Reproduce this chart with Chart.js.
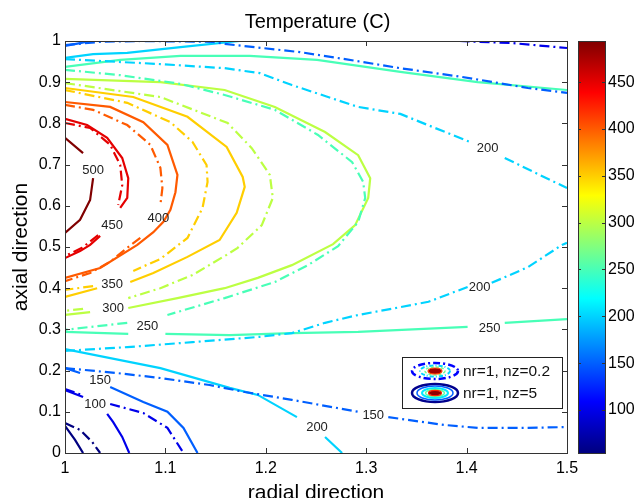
<!DOCTYPE html>
<html><head><meta charset="utf-8">
<script src="https://cdn.jsdelivr.net/npm/chart.js@4.4.1/dist/chart.umd.min.js"></script>
<style>
html,body{margin:0;padding:0;background:#fff;overflow:hidden;width:635px;height:498px}
#wrap{position:relative;width:635px;height:498px}
#main{position:absolute;left:0;top:0}
#cbar{position:absolute;left:570px;top:0}
</style></head><body>
<div id="wrap"><canvas id="main" width="635" height="498"></canvas><canvas id="cbar" width="65" height="498"></canvas></div>
<script>
// ---------- tick labels ----------
const xTicks = [1, 1.1, 1.2, 1.3, 1.4, 1.5];
const xTickLabels = ['1', '1.1', '1.2', '1.3', '1.4', '1.5'];
const yTicks = [0, 0.1, 0.2, 0.3, 0.4, 0.5, 0.6, 0.7, 0.8, 0.9, 1];
const yTickLabels = ['0', '0.1', '0.2', '0.3', '0.4', '0.5', '0.6', '0.7', '0.8', '0.9', '1'];
const cbTicks = [100, 150, 200, 250, 300, 350, 400, 450];
const cbTickLabels = ['100', '150', '200', '250', '300', '350', '400', '450'];
const cbMin = 54, cbMax = 494;

// ---------- contour lines, nr=1 nz=5 (solid) : [radial, axial], null = label gap ----------
const s500 = [[1.0,0.765],[1.018,0.728],null,[1.028,0.667],[1.025,0.614],[1.015,0.566],[1.0,0.534]];
const s450 = [[1.0,0.811],[1.022,0.796],[1.042,0.765],[1.057,0.716],[1.063,0.667],[1.062,0.619],[1.055,0.595],null,[1.035,0.527],[1.025,0.505],[1.015,0.49],[1.0,0.473]];
const s400 = [[1.0,0.852],[1.045,0.840],[1.078,0.803],[1.102,0.748],[1.112,0.675],[1.110,0.633],[1.105,0.590],[1.098,0.561],[1.088,0.536],[1.072,0.505],[1.035,0.449],[1.0,0.425]];
const s350 = [[1.0,0.886],[1.068,0.864],[1.122,0.816],[1.161,0.743],[1.177,0.670],[1.179,0.646],[1.171,0.583],[1.154,0.517],[1.122,0.476],[1.088,0.437],[1.065,0.415],null,[1.032,0.400],[1.0,0.379]];
const s300 = [[1.0,0.908],[1.095,0.900],[1.159,0.881],[1.209,0.840],[1.259,0.779],[1.292,0.723],[1.304,0.667],[1.302,0.619],[1.289,0.553],[1.267,0.507],[1.226,0.456],[1.192,0.425],[1.159,0.400],[1.112,0.376],[1.063,0.352],null,[1.025,0.342],[1.0,0.335]];
const s250a = [[1.0,0.937],[1.055,0.954],[1.115,0.964],[1.184,0.964],[1.251,0.954],[1.334,0.925],[1.411,0.900],[1.5,0.881]];
const s250b = [[1.0,0.294],[1.063,0.289],null,[1.1,0.289],[1.164,0.286],[1.226,0.291],[1.292,0.294],[1.401,0.306],null,[1.438,0.316],[1.5,0.325]];
const s200a = [[1.0,0.959],[1.028,0.968],[1.062,0.971],[1.115,0.985],[1.174,1.0]];
const s200b = [[1.0,0.252],[1.095,0.206],[1.164,0.158],[1.192,0.141],[1.231,0.087],null,[1.259,0.039],[1.276,0.0]];
const s150a = [[1.0,0.988],[1.015,0.995],[1.025,1.0]];
const s150b = [[1.0,0.206],[1.015,0.194],null,[1.045,0.160],[1.078,0.124],[1.102,0.100],[1.118,0.061],[1.132,0.0]];
const s100 = [[1.0,0.153],[1.018,0.136],null,[1.042,0.095],[1.048,0.075],[1.057,0.039],[1.064,0.0]];
const s50 = [[1.0,0.066],[1.010,0.032],[1.018,0.0]];

// ---------- contour lines, nr=1 nz=0.2 (dash-dot) ----------
const d450 = [[1.0,0.801],[1.025,0.789],[1.045,0.748],[1.055,0.699],[1.057,0.650],[1.053,0.602],null,[1.033,0.529],[1.017,0.498],[1.0,0.478]];
const d400 = [[1.0,0.845],[1.028,0.833],[1.062,0.796],[1.085,0.748],[1.095,0.692],[1.097,0.643],[1.095,0.602],null,[1.075,0.522],[1.062,0.498],[1.045,0.464],[1.025,0.437],[1.0,0.417]];
const d350 = [[1.0,0.881],[1.062,0.850],[1.105,0.803],[1.127,0.755],[1.141,0.699],[1.142,0.658],[1.137,0.595],[1.122,0.522],[1.095,0.471],[1.068,0.442],null,[1.028,0.405],[1.0,0.396]];
const d300 = [[1.0,0.898],[1.095,0.864],[1.162,0.801],[1.186,0.740],[1.204,0.675],[1.207,0.619],[1.196,0.553],[1.172,0.498],[1.161,0.481],[1.127,0.432],[1.095,0.400],[1.063,0.376],null,[1.018,0.350],[1.0,0.345]];
const d250 = [[1.0,0.930],[1.055,0.917],[1.115,0.896],[1.159,0.869],[1.209,0.833],[1.252,0.772],[1.286,0.706],[1.297,0.658],[1.299,0.619],[1.292,0.561],[1.272,0.502],[1.242,0.456],[1.209,0.415],[1.159,0.376],[1.102,0.335],null,[1.062,0.316],[1.0,0.299]];
const d200a = [[1.0,0.956],[1.095,0.944],[1.159,0.934],[1.194,0.922],[1.226,0.893],[1.292,0.840],[1.334,0.823],[1.403,0.755],null,[1.438,0.716],[1.5,0.643]];
const d200b = [[1.0,0.248],[1.062,0.257],[1.127,0.269],[1.194,0.282],[1.226,0.291],[1.259,0.316],[1.292,0.335],[1.334,0.354],[1.362,0.367],[1.401,0.403],null,[1.425,0.413],[1.461,0.451],[1.495,0.505],[1.5,0.510]];
const d150a = [[1.0,0.990],[1.035,0.998],[1.075,1.0],[1.147,0.998],[1.159,0.993],[1.234,0.973],[1.279,0.956],[1.334,0.934],[1.395,0.913],[1.461,0.886],[1.5,0.874]];
const d150b = [[1.0,0.206],[1.052,0.194],[1.095,0.182],[1.144,0.165],[1.179,0.148],[1.226,0.129],[1.292,0.100],null,[1.322,0.087],[1.378,0.068],[1.411,0.061],[1.461,0.061],[1.5,0.063]];
const d100a = [[1.393,1.0],[1.445,0.995],[1.5,0.983]];
const d100b = [[1.0,0.155],[1.018,0.140],null,[1.045,0.119],[1.078,0.097],[1.102,0.061],[1.118,0.0]];
const d50 = [[1.0,0.073],[1.015,0.056],[1.027,0.027],[1.035,0.0]];

const solidLines = [[500,s500],[450,s450],[400,s400],[350,s350],[300,s300],[250,s250a],[250,s250b],[200,s200a],[200,s200b],[150,s150a],[150,s150b],[100,s100],[50,s50]];
const dashLines = [[450,d450],[400,d400],[350,d350],[300,d300],[250,d250],[200,d200a],[200,d200b],[150,d150a],[150,d150b],[100,d100a],[100,d100b],[50,d50]];

// ---------- contour labels ----------
const labelText = ['500','450','400','350','300','250','150','100','200','150','250','200','200'];
const labelX = [1.028,1.047,1.093,1.047,1.048,1.082,1.035,1.030,1.251,1.307,1.423,1.413,1.421];
const labelY = [0.687,0.553,0.570,0.408,0.352,0.308,0.177,0.117,0.061,0.092,0.303,0.403,0.740];

// ---------- legend ----------
const legendTexts = ['nr=1, nz=0.2', 'nr=1, nz=5'];

// ---------- helpers ----------
const FONT = '"Liberation Sans", Arial, Helvetica, sans-serif';
Chart.defaults.font.family = FONT;
Chart.defaults.color = '#000';
function jetRGB(t){
  t = Math.max(0, Math.min(1, t));
  const c = v => Math.round(255 * Math.max(0, Math.min(1, v)));
  return [c(1.5 - Math.abs(4*t - 3)), c(1.5 - Math.abs(4*t - 2)), c(1.5 - Math.abs(4*t - 1))];
}
function jet(t){ const [r,g,b] = jetRGB(t); return `rgb(${r},${g},${b})`; }
function levelColor(v){ return jet((v - cbMin) / (cbMax - cbMin)); }
const toPts = arr => arr.map((p, i) => p ? {x: p[0], y: p[1]} : {x: arr[i-1][0], y: null});

const datasets = [];
dashLines.forEach(([lv, pts]) => datasets.push({data: toPts(pts), borderColor: levelColor(lv), borderWidth: 2.2, borderDash: [10,4,2,4], showLine: true, pointRadius: 0, fill: false, spanGaps: false}));
solidLines.forEach(([lv, pts]) => datasets.push({data: toPts(pts), borderColor: levelColor(lv), borderWidth: 2.2, showLine: true, pointRadius: 0, fill: false, spanGaps: false}));

function ell(ctx, cx, cy, rx, ry, color, lw, dash){
  ctx.beginPath(); ctx.setLineDash(dash || []); ctx.strokeStyle = color; ctx.lineWidth = lw;
  ctx.ellipse(cx, cy, rx, ry, 0, 0, Math.PI*2); ctx.stroke(); ctx.setLineDash([]);
}
function fillEll(ctx, cx, cy, rx, ry, fill, stroke){
  ctx.beginPath(); ctx.ellipse(cx, cy, rx, ry, 0, 0, Math.PI*2); ctx.fillStyle = fill; ctx.fill();
  if (stroke){ ctx.strokeStyle = stroke; ctx.lineWidth = 1.2; ctx.stroke(); }
}

const overlay = {
  id: 'overlay',
  afterDatasetsDraw(chart){
    const {ctx, chartArea: a, scales: {x, y}} = chart;
    ctx.save();
    ctx.font = '13px ' + FONT; ctx.fillStyle = '#222'; ctx.textAlign = 'center'; ctx.textBaseline = 'middle';
    labelText.forEach((t, i) => ctx.fillText(t, x.getPixelForValue(labelX[i]), y.getPixelForValue(labelY[i])));
    // legend
    const L = a.right - 165, T = a.bottom - 96, W = 160, H = 51;
    ctx.fillStyle = '#fff'; ctx.fillRect(L, T, W, H);
    ctx.strokeStyle = '#222'; ctx.lineWidth = 1; ctx.strokeRect(L + 0.5, T + 0.5, W, H);
    const cx = L + 33, r1 = T + 14, r2 = T + 36;
    ell(ctx, cx, r1, 23, 8, levelColor(110), 2.5, [7,3,2,3]);
    ell(ctx, cx, r1, 15, 5.5, levelColor(200), 2, [4,2,1,2]);
    ell(ctx, cx, r1, 10, 4, levelColor(270), 1.5, [3,2]);
    fillEll(ctx, cx, r1, 7, 3, '#a00000', '#ff4000');
    ell(ctx, cx, r2, 23, 9, levelColor(60), 2.5);
    ell(ctx, cx, r2, 18, 7, levelColor(150), 1.5);
    ell(ctx, cx, r2, 13, 5, levelColor(210), 2);
    ell(ctx, cx, r2, 9.5, 3.6, levelColor(260), 1.5);
    fillEll(ctx, cx, r2, 6.5, 2.6, '#900000', '#ff2000');
    ctx.font = '15.5px ' + FONT; ctx.fillStyle = '#111'; ctx.textAlign = 'left'; ctx.textBaseline = 'middle';
    ctx.fillText(legendTexts[0], L + 61, r1 + 1);
    ctx.fillText(legendTexts[1], L + 61, r2 + 1);
    ctx.restore();
  },
  afterDraw(chart){
    const {ctx, chartArea: a, scales: {x, y}} = chart;
    ctx.save();
    ctx.strokeStyle = '#333'; ctx.lineWidth = 1;
    ctx.beginPath();
    xTicks.forEach(v => { const p = Math.round(x.getPixelForValue(v)) + 0.5; ctx.moveTo(p, a.bottom); ctx.lineTo(p, a.bottom - 5); ctx.moveTo(p, a.top); ctx.lineTo(p, a.top + 5); });
    yTicks.forEach(v => { const p = Math.round(y.getPixelForValue(v)) + 0.5; ctx.moveTo(a.left, p); ctx.lineTo(a.left + 5, p); ctx.moveTo(a.right, p); ctx.lineTo(a.right - 5, p); });
    ctx.stroke();
    ctx.strokeRect(Math.round(a.left) + 0.5, Math.round(a.top) + 0.5, Math.round(a.right - a.left), Math.round(a.bottom - a.top));
    ctx.restore();
  }
};

new Chart(document.getElementById('main'), {
  type: 'scatter',
  data: {datasets},
  options: {
    responsive: false, animation: false, devicePixelRatio: 1, events: [],
    plugins: {
      legend: {display: false}, tooltip: {enabled: false},
      title: {display: true, text: 'Temperature (C)', color: '#000', font: {size: 20, weight: 'normal'}, padding: {top: 10, bottom: 7}}
    },
    scales: {
      x: {type: 'linear', min: 1, max: 1.5,
        afterBuildTicks: s => { s.ticks = xTicks.map(v => ({value: v})); },
        ticks: {callback: (v, i) => xTickLabels[i], color: '#000', font: {size: 16}, padding: 6, maxRotation: 0, autoSkip: false},
        grid: {display: false, drawTicks: false}, border: {display: false},
        title: {display: true, text: 'radial direction', color: '#000', font: {size: 21}, padding: {top: 0, bottom: -8}},
        afterFit: s => { s.height = 45; }},
      y: {type: 'linear', min: 0, max: 1,
        afterBuildTicks: s => { s.ticks = yTicks.map(v => ({value: v})); },
        ticks: {callback: (v, i) => yTickLabels[i], color: '#000', font: {size: 16}, padding: 4, autoSkip: false},
        grid: {display: false, drawTicks: false}, border: {display: false},
        title: {display: true, text: 'axial direction', color: '#000', font: {size: 21}, padding: {top: 9, bottom: 0}},
        afterFit: s => { s.width = 65; }},
      y2: {type: 'linear', position: 'right', min: 0, max: 1, display: true,
        ticks: {display: false}, grid: {display: false, drawTicks: false}, border: {display: false},
        afterFit: s => { s.width = 68; }}
    }
  },
  plugins: [overlay]
});

// ---------- colour bar ----------
const cbFrame = {
  id: 'cbFrame',
  afterDraw(chart){
    const {ctx, chartArea: a, scales: {y}} = chart;
    ctx.save(); ctx.strokeStyle = '#333'; ctx.lineWidth = 1;
    ctx.beginPath();
    cbTicks.forEach(v => { const p = Math.round(y.getPixelForValue(v)) + 0.5; ctx.moveTo(a.left, p); ctx.lineTo(a.left + 3, p); ctx.moveTo(a.right, p); ctx.lineTo(a.right - 3, p); });
    ctx.stroke();
    ctx.strokeRect(Math.round(a.left) + 0.5, Math.round(a.top) + 0.5, Math.round(a.right - a.left), Math.round(a.bottom - a.top));
    ctx.restore();
  }
};
new Chart(document.getElementById('cbar'), {
  type: 'bar',
  data: {labels: [''], datasets: [{data: [[cbMin, cbMax]], borderWidth: 0, barPercentage: 1, categoryPercentage: 1,
    backgroundColor: c => {
      const ch = c.chart; if (!ch.chartArea) return '#000';
      const ys = ch.scales.y;
      const g = ch.ctx.createLinearGradient(0, ys.getPixelForValue(cbMin), 0, ys.getPixelForValue(cbMax));
      for (let i = 0; i <= 32; i++) g.addColorStop(i / 32, jet(i / 32));
      return g;
    }}]},
  options: {
    responsive: false, animation: false, devicePixelRatio: 1, events: [],
    layout: {padding: {left: 8, top: 41, bottom: 45, right: 0}},
    plugins: {legend: {display: false}, tooltip: {enabled: false}},
    scales: {
      x: {display: false},
      y: {position: 'right', min: cbMin, max: cbMax,
        afterBuildTicks: s => { s.ticks = cbTicks.map(v => ({value: v})); },
        ticks: {callback: (v, i) => cbTickLabels[i], color: '#000', font: {size: 16}, padding: 3, autoSkip: false},
        grid: {display: false, drawTicks: false}, border: {display: false},
        afterFit: s => { s.width = 30; }}
    }
  },
  plugins: [cbFrame]
});
</script></body></html>
